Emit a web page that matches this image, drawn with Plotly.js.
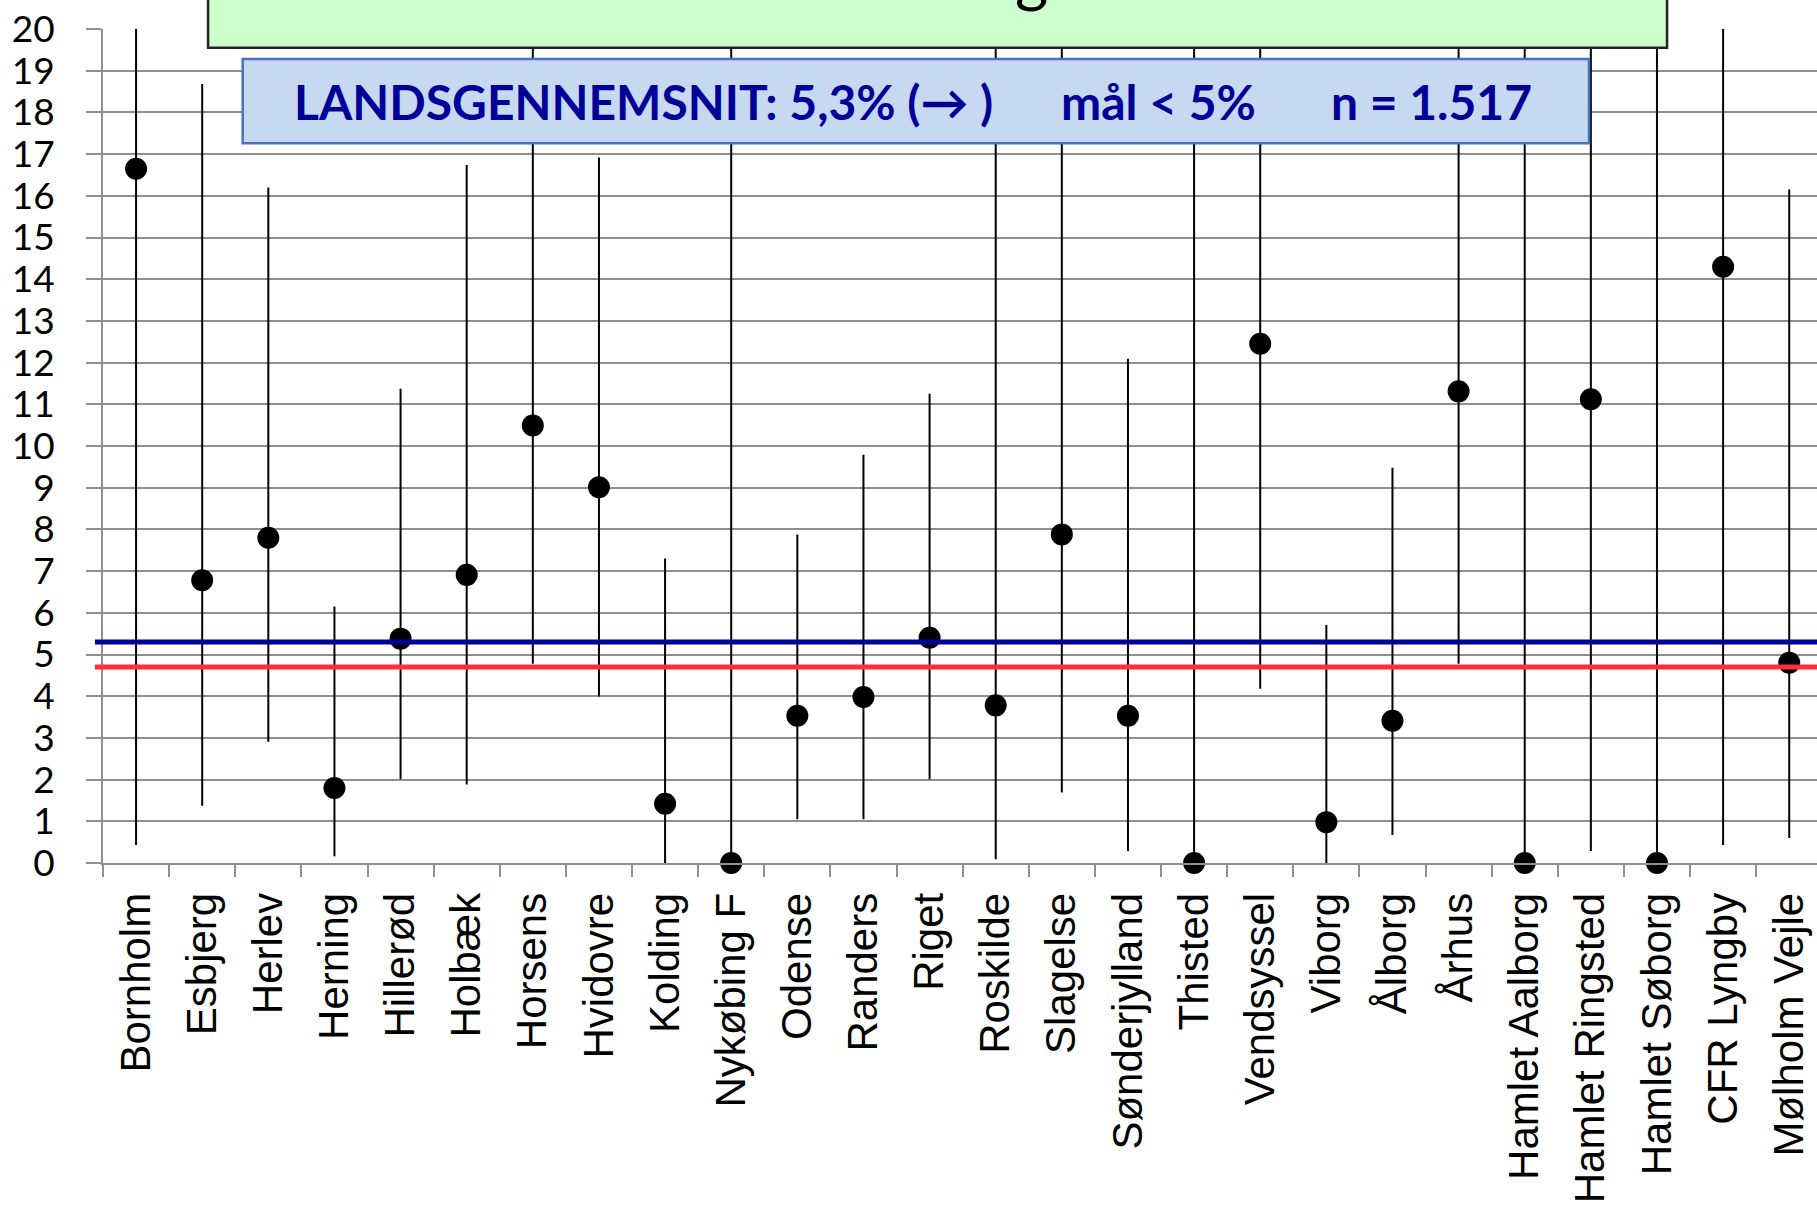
<!DOCTYPE html>
<html>
<head>
<meta charset="utf-8">
<script src="https://cdn.plot.ly/plotly-3.0.1.min.js"></script>
<style>
html,body{margin:0;padding:0;background:#fff;}
#chart{width:1817px;height:1205px;}
</style>
</head>
<body>
<div id="chart"></div>
<script>
// ---- data ----
const categories = ['Bornholm','Esbjerg','Herlev','Herning','Hillerød','Holbæk','Horsens','Hvidovre','Kolding','Nykøbing F','Odense','Randers','Riget','Roskilde','Slagelse','Sønderjylland','Thisted','Vendsyssel','Viborg','Ålborg','Århus','Hamlet Aalborg','Hamlet Ringsted','Hamlet Søborg','CFR Lyngby','Mølholm Vejle'];
const pointValues = [16.65, 6.78, 7.80, 1.80, 5.38, 6.91, 10.49, 9.01, 1.42, 0, 3.53, 3.98, 5.40, 3.78, 7.88, 3.53, 0, 12.45, 0.98, 3.41, 11.31, 0, 11.12, 0, 14.30, 4.80];
const lowerCI = [0.43, 1.37, 2.91, 0.16, 2.01, 1.88, 4.78, 3.99, 0, 0, 1.05, 1.05, 2.01, 0.09, 1.69, 0.29, 0, 4.18, 0, 0.67, 4.78, 0, 0.29, 0, 0.43, 0.60];
// upper limits beyond the visible top (20) are shown clipped at 20
const upperCI = [20, 18.68, 16.20, 6.15, 11.37, 16.74, 20, 16.92, 7.30, 20, 7.88, 9.79, 11.25, 20, 20, 12.09, 20, 20, 5.71, 9.48, 20, 20, 20, 20, 20, 16.15];
const yTickValues = [0,1,2,3,4,5,6,7,8,9,10,11,12,13,14,15,16,17,18,19,20];
const nationalAverage = 5.3;
const goalLine = 4.7;
const infoTexts = ['LANDSGENNEMSNIT: 5,3% (→ )', 'mål < 5%', 'n = 1.517'];

const errPlus = upperCI.map((u, i) => u - pointValues[i]);
const errMinus = lowerCI.map((l, i) => pointValues[i] - l);

const trace = {
  type: 'scatter',
  mode: 'markers',
  x: categories,
  y: pointValues,
  cliponaxis: false,
  marker: {color: '#000000', size: 22, symbol: 'circle'},
  error_y: {
    type: 'data', symmetric: false,
    array: errPlus, arrayminus: errMinus,
    color: '#000000', thickness: 2, width: 0
  },
  hoverinfo: 'x+y'
};

const gridCol = '#8f8f8f';
const layout = {
  width: 1817, height: 1205,
  margin: {l: 103, r: 0, t: 29, b: 342, pad: 0},
  paper_bgcolor: '#ffffff', plot_bgcolor: '#ffffff',
  showlegend: false,
  xaxis: {
    type: 'category',
    range: [-0.5, 25.42],
    tickson: 'boundaries',
    ticks: 'outside', ticklen: 12, tickwidth: 2, tickcolor: gridCol,
    showline: true, linecolor: gridCol, linewidth: 2,
    showgrid: false, zeroline: false,
    tickangle: -90,
    ticklabelstandoff: 11,
    tickfont: {family: 'Liberation Sans, Arial, sans-serif', size: 42, color: '#000000'},
    fixedrange: true
  },
  yaxis: {
    range: [0, 20],
    tickmode: 'array', tickvals: yTickValues, ticktext: yTickValues.map(String),
    ticks: 'outside', ticklen: 15, tickwidth: 2, tickcolor: gridCol,
    showline: true, linecolor: gridCol, linewidth: 2,
    showgrid: true, gridcolor: gridCol, gridwidth: 2,
    zeroline: false,
    ticklabelstandoff: 24,
    tickfont: {family: 'Lato, Carlito, sans-serif', size: 37, color: '#000000'},
    fixedrange: true
  },
  shapes: [
    {type: 'line', xref: 'paper', yref: 'y', x0: -0.0047, x1: 1, y0: nationalAverage, y1: nationalAverage,
     line: {color: '#000099', width: 5}, layer: 'above'},
    {type: 'line', xref: 'paper', yref: 'y', x0: -0.0047, x1: 1, y0: goalLine, y1: goalLine,
     line: {color: '#ff2d3d', width: 5}, layer: 'above'},
    {type: 'rect', xref: 'paper', yref: 'paper', x0: 0.0613, x1: 0.9125, y0: 0.9776, y1: 1.3,
     fillcolor: '#ccffcc', line: {color: '#222222', width: 2.5}, layer: 'above'},
    {type: 'rect', xref: 'paper', yref: 'paper', x0: 0.0815, x1: 0.867, y0: 0.863, y1: 0.964,
     fillcolor: '#c6d9f1', line: {color: '#4472c4', width: 2.5}, layer: 'above'}
  ],
  annotations: [
    {xref: 'paper', yref: 'paper', x: 0.3151, y: 0.9125, xanchor: 'center', yanchor: 'middle',
     text: '<b>' + infoTexts[0] + '</b>', showarrow: false,
     font: {family: 'Lato, Carlito, sans-serif', size: 48, color: '#000099'}},
    {xref: 'paper', yref: 'paper', x: 0.6158, y: 0.9125, xanchor: 'center', yanchor: 'middle',
     text: '<b>' + infoTexts[1] + '</b>', showarrow: false,
     font: {family: 'Lato, Carlito, sans-serif', size: 48, color: '#000099'}},
    {xref: 'paper', yref: 'paper', x: 0.7751, y: 0.9125, xanchor: 'center', yanchor: 'middle',
     text: '<b>' + infoTexts[2] + '</b>', showarrow: false,
     font: {family: 'Lato, Carlito, sans-serif', size: 48, color: '#000099'}},
    {xref: 'paper', yref: 'paper', x: 0.542, y: 1.0156, xanchor: 'center', yanchor: 'bottom',
     text: 'g', showarrow: false,
     font: {family: 'Lato, Carlito, sans-serif', size: 64, color: '#000000'}}
  ]
};

Plotly.newPlot('chart', [trace], layout, {displayModeBar: false, staticPlot: true});
</script>
</body>
</html>
